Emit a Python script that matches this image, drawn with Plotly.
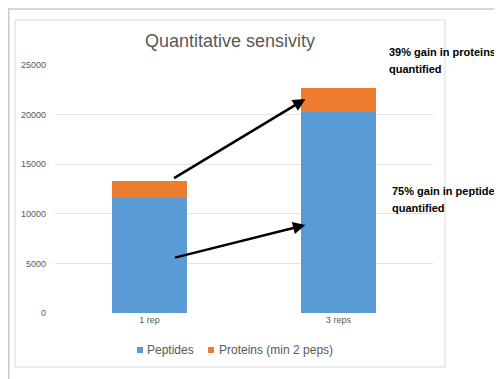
import plotly.graph_objects as go

categories = ["1 rep", "3 reps"]
peptides = [11600, 20300]
proteins = [1700, 2400]
series_names = ["Peptides", "Proteins (min 2 peps)"]
series_colors = ["#5B9BD5", "#ED7D31"]
tick_vals = [0, 5000, 10000, 15000, 20000, 25000]
tick_text = ["0", "5000", "10000", "15000", "20000", "25000"]

OFF = 8  # page body margin
W, H = 502 - OFF, 379 - OFF
PL, PR, PT, PB = 55, 433, 65, 313  # plot area in page pixels
L, R, T, B = PL - OFF, W - (PR - OFF), PT - OFF, H - (PB - OFF)

def px(x):
    return (x - PL) / (PR - PL)

def py(y):
    return (PB - y) / (PB - PT)

FONT = "Liberation Sans"
GRAY = "#595959"

fig = go.Figure()
for vals, name, col in zip([peptides, proteins], series_names, series_colors):
    fig.add_trace(go.Bar(x=categories, y=vals, name=name, showlegend=False,
                         marker=dict(color=col, line=dict(width=0))))

shapes = [
    dict(type="line", xref="paper", yref="paper", x0=px(8.8), x1=px(8.8), y0=py(9), y1=py(380),
         line=dict(color="#C8C8C8", width=1.5)),
    dict(type="line", xref="paper", yref="paper", x0=px(8), x1=px(503), y0=py(9), y1=py(9),
         line=dict(color="#C8C8C8", width=1.5)),
    dict(type="rect", xref="paper", yref="paper", x0=px(15), x1=px(445), y0=py(20), y1=py(367),
         line=dict(color="#D9D9D9", width=1)),
]

annotations = [
    dict(x=0.825, y=21573, ax=0.122, ay=13508, xref="x", yref="y", axref="x", ayref="y",
         showarrow=True, arrowhead=2, arrowsize=1, arrowwidth=2.5, arrowcolor="black", text=""),
    dict(x=0.825, y=8871, ax=0.127, ay=5544, xref="x", yref="y", axref="x", ayref="y",
         showarrow=True, arrowhead=2, arrowsize=1, arrowwidth=2.5, arrowcolor="black", text=""),
]
for txt, x, y in [("39% gain in proteins", 387, 52), ("quantified", 387, 68.5),
                  ("75% gain in peptides", 390, 191), ("quantified", 390, 207.5)]:
    annotations.append(dict(x=px(x), y=py(y), xref="paper", yref="paper",
                            xanchor="left", yanchor="middle", align="left",
                            showarrow=False, text="<b>" + txt + "</b>",
                            font=dict(family=FONT, size=11, color="black")))

# legend (manual to match compact keys)
leg_items = [(137, 145), (208, 217)]
for (sx, tx), name, col in zip(leg_items, series_names, series_colors):
    shapes.append(dict(type="rect", xref="paper", yref="paper",
                       x0=px(sx), x1=px(sx + 6), y0=py(353), y1=py(347),
                       fillcolor=col, line=dict(width=0)))
    annotations.append(dict(x=px(tx), y=py(350), xref="paper", yref="paper",
                            xanchor="left", yanchor="middle", showarrow=False,
                            text=name, font=dict(family=FONT, size=12, color=GRAY)))

fig.update_layout(
    width=W, height=H,
    margin=dict(l=L, r=R, t=T, b=B),
    barmode="stack", bargap=0.6,
    paper_bgcolor="white", plot_bgcolor="white",
    title=dict(text="Quantitative sensivity", x=px(230), xanchor="center",
               xref="paper", y=1 - (41 - OFF) / H, yanchor="middle",
               font=dict(family=FONT, size=18, color=GRAY)),
    xaxis=dict(range=[-0.5, 1.5], showgrid=False, showline=False, zeroline=False,
               ticks="", tickfont=dict(family=FONT, size=9, color=GRAY)),
    yaxis=dict(range=[0, 25000], tickvals=tick_vals, ticktext=tick_text,
               showgrid=True, gridcolor="#E3E3E3", gridwidth=1, zeroline=False,
               showline=False, ticks="", ticklabelstandoff=8,
               tickfont=dict(family=FONT, size=9, color=GRAY)),
    shapes=shapes,
    annotations=annotations,
    showlegend=False,
)

fig.write_html("out.html")
